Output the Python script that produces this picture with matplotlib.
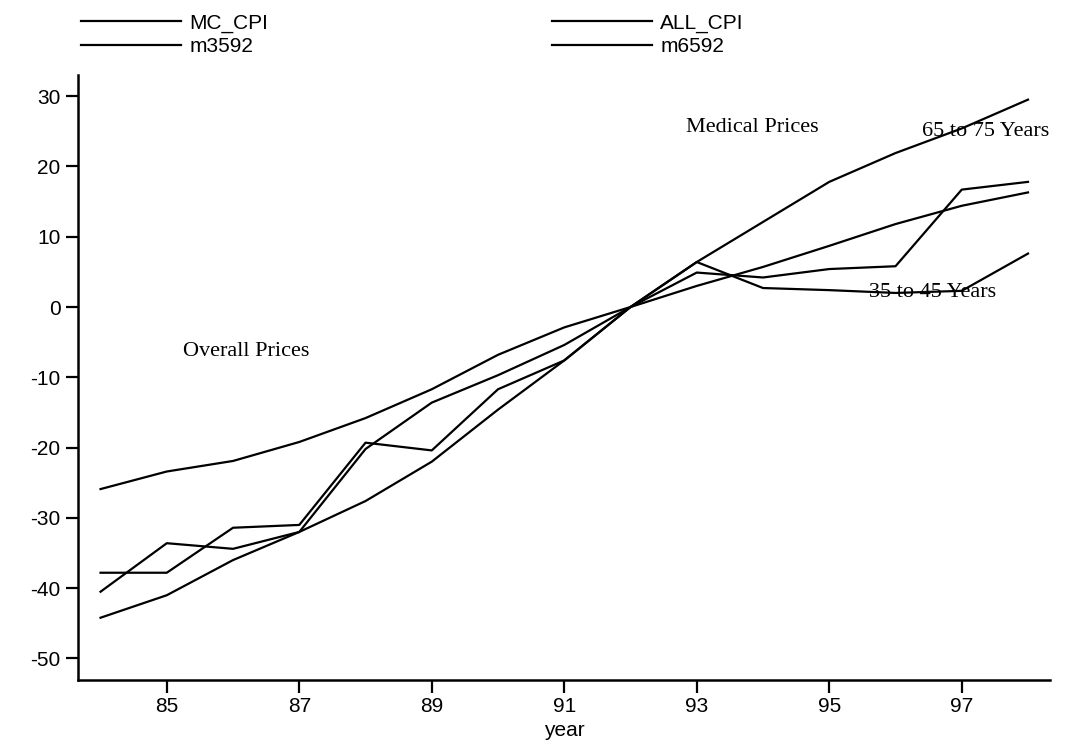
import matplotlib
matplotlib.use("Agg")
import matplotlib.pyplot as plt

plt.rcParams["axes.unicode_minus"] = False

# percent change relative to 1992
years = [84, 85, 86, 87, 88, 89, 90, 91, 92, 93, 94, 95, 96, 97, 98]
mc_cpi = [-44.2, -41.0, -36.0, -32.0, -27.6, -22.0, -14.6, -7.6, 0.0, 6.4, 12.1, 17.8, 21.9, 25.4, 29.5]
all_cpi = [-25.9, -23.4, -21.9, -19.2, -15.8, -11.7, -6.8, -2.9, 0.0, 3.0, 5.7, 8.7, 11.8, 14.4, 16.3]
m3592 = [-40.5, -33.6, -34.4, -32.0, -20.2, -13.6, -9.7, -5.4, 0.0, 6.4, 2.7, 2.4, 2.0, 2.3, 7.6]
m6592 = [-37.8, -37.8, -31.4, -31.0, -19.3, -20.4, -11.7, -7.6, 0.0, 4.9, 4.2, 5.4, 5.8, 16.7, 17.8]

xticks = [85, 87, 89, 91, 93, 95, 97]
yticks = [30, 20, 10, 0, -10, -20, -30, -40, -50]

fig = plt.figure(figsize=(10.79, 7.48), dpi=100)
ax = fig.add_axes([0.0723, 0.0909, 0.9007, 0.8088])

lw = 1.6
h1, = ax.plot(years, mc_cpi, color="black", lw=lw, label="MC_CPI")
h2, = ax.plot(years, all_cpi, color="black", lw=lw, label="ALL_CPI")
h3, = ax.plot(years, m3592, color="black", lw=lw, label="m3592")
h4, = ax.plot(years, m6592, color="black", lw=lw, label="m6592")

ax.set_xlim(83.66, 98.33)
ax.set_ylim(-53.06, 33.0)
ax.set_xticks(xticks)
ax.set_yticks(yticks)
ax.tick_params(labelsize=15, length=9, width=1.6, direction="out")
for lab in ax.get_xticklabels() + ax.get_yticklabels():
    lab.set_family("Liberation Sans")
ax.set_xlabel("year", fontsize=15, family="Liberation Sans", labelpad=3)

for s in ["top", "right"]:
    ax.spines[s].set_visible(False)
for s in ["left", "bottom"]:
    ax.spines[s].set_linewidth(1.8)

serif = dict(family="Liberation Serif", fontsize=16, va="center", ha="left")
ax.text(92.83, 25.6, "Medical Prices", **serif)
ax.text(96.4, 24.9, "65 to 75 Years", **serif)
ax.text(95.6, 2.0, "35 to 45 Years", **serif)
ax.text(85.25, -6.4, "Overall Prices", **serif)

fig.legend(handles=[h1, h3, h2, h4], ncol=2, loc="upper left",
           bbox_to_anchor=(0.058, 1.007), frameon=False,
           prop={"family": "Liberation Sans", "size": 15},
           handlelength=4.8, handletextpad=0.4, labelspacing=0.2,
           columnspacing=13.6)

fig.savefig("out.png", dpi=100)
